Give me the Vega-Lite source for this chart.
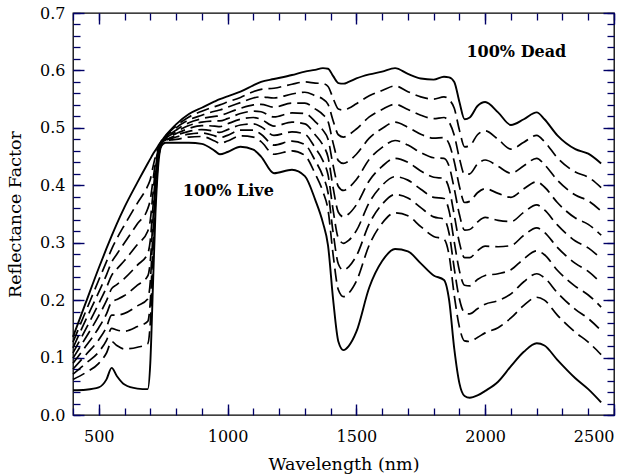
{
  "$schema": "https://vega.github.io/schema/vega-lite/v6.json",
  "width": 541,
  "height": 402,
  "autosize": {"type": "none"},
  "padding": {"left": 73, "top": 13, "right": 22, "bottom": 61},
  "background": "white",
  "config": {
    "view": {"stroke": "black", "strokeWidth": 1.3},
    "axis": {"grid": false, "domain": false, "labelColor": "black", "titleColor": "black", "labelFont": "DejaVu Serif", "titleFont": "DejaVu Serif", "labelFontSize": 16, "titleFontSize": 17.5, "titleFontWeight": "normal"}
  },
  "data": {
    "values": [
      {"w": 400, "L": 0.043, "p20": 0.062, "p30": 0.071, "p40": 0.080, "p50": 0.090, "p60": 0.099, "p70": 0.108, "p80": 0.117, "p90": 0.127, "D": 0.136},
      {"w": 450, "L": 0.044, "p20": 0.074, "p30": 0.090, "p40": 0.105, "p50": 0.120, "p60": 0.135, "p70": 0.150, "p80": 0.166, "p90": 0.181, "D": 0.196},
      {"w": 500, "L": 0.048, "p20": 0.090, "p30": 0.110, "p40": 0.131, "p50": 0.152, "p60": 0.173, "p70": 0.194, "p80": 0.214, "p90": 0.235, "D": 0.256},
      {"w": 530, "L": 0.062, "p20": 0.108, "p30": 0.130, "p40": 0.153, "p50": 0.176, "p60": 0.199, "p70": 0.222, "p80": 0.244, "p90": 0.267, "D": 0.290},
      {"w": 550, "L": 0.082, "p20": 0.128, "p30": 0.151, "p40": 0.174, "p50": 0.197, "p60": 0.220, "p70": 0.243, "p80": 0.266, "p90": 0.289, "D": 0.312},
      {"w": 570, "L": 0.068, "p20": 0.121, "p30": 0.148, "p40": 0.174, "p50": 0.201, "p60": 0.227, "p70": 0.254, "p80": 0.280, "p90": 0.307, "D": 0.333},
      {"w": 600, "L": 0.053, "p20": 0.115, "p30": 0.146, "p40": 0.177, "p50": 0.208, "p60": 0.238, "p70": 0.269, "p80": 0.300, "p90": 0.331, "D": 0.362},
      {"w": 650, "L": 0.046, "p20": 0.118, "p30": 0.154, "p40": 0.190, "p50": 0.226, "p60": 0.261, "p70": 0.297, "p80": 0.333, "p90": 0.369, "D": 0.405},
      {"w": 690, "L": 0.045, "p20": 0.124, "p30": 0.163, "p40": 0.202, "p50": 0.242, "p60": 0.281, "p70": 0.320, "p80": 0.359, "p90": 0.399, "D": 0.438},
      {"w": 700, "L": 0.090, "p20": 0.161, "p30": 0.197, "p40": 0.232, "p50": 0.268, "p60": 0.304, "p70": 0.339, "p80": 0.375, "p90": 0.410, "D": 0.446},
      {"w": 710, "L": 0.220, "p20": 0.267, "p30": 0.290, "p40": 0.314, "p50": 0.337, "p60": 0.360, "p70": 0.384, "p80": 0.407, "p90": 0.431, "D": 0.454},
      {"w": 720, "L": 0.350, "p20": 0.372, "p30": 0.383, "p40": 0.394, "p50": 0.406, "p60": 0.417, "p70": 0.428, "p80": 0.439, "p90": 0.450, "D": 0.461},
      {"w": 730, "L": 0.430, "p20": 0.438, "p30": 0.441, "p40": 0.445, "p50": 0.449, "p60": 0.453, "p70": 0.457, "p80": 0.460, "p90": 0.464, "D": 0.468},
      {"w": 740, "L": 0.465, "p20": 0.467, "p30": 0.468, "p40": 0.469, "p50": 0.470, "p60": 0.471, "p70": 0.472, "p80": 0.473, "p90": 0.474, "D": 0.475},
      {"w": 750, "L": 0.472, "p20": 0.474, "p30": 0.475, "p40": 0.476, "p50": 0.477, "p60": 0.477, "p70": 0.478, "p80": 0.479, "p90": 0.480, "D": 0.481},
      {"w": 760, "L": 0.474, "p20": 0.477, "p30": 0.478, "p40": 0.479, "p50": 0.481, "p60": 0.482, "p70": 0.483, "p80": 0.484, "p90": 0.486, "D": 0.487},
      {"w": 780, "L": 0.474, "p20": 0.479, "p30": 0.481, "p40": 0.483, "p50": 0.486, "p60": 0.488, "p70": 0.490, "p80": 0.492, "p90": 0.495, "D": 0.497},
      {"w": 800, "L": 0.474, "p20": 0.480, "p30": 0.484, "p40": 0.487, "p50": 0.490, "p60": 0.493, "p70": 0.496, "p80": 0.500, "p90": 0.503, "D": 0.506},
      {"w": 850, "L": 0.474, "p20": 0.484, "p30": 0.489, "p40": 0.494, "p50": 0.499, "p60": 0.504, "p70": 0.509, "p80": 0.514, "p90": 0.519, "D": 0.524},
      {"w": 900, "L": 0.472, "p20": 0.485, "p30": 0.491, "p40": 0.497, "p50": 0.504, "p60": 0.510, "p70": 0.516, "p80": 0.522, "p90": 0.529, "D": 0.535},
      {"w": 950, "L": 0.460, "p20": 0.477, "p30": 0.486, "p40": 0.494, "p50": 0.503, "p60": 0.512, "p70": 0.520, "p80": 0.529, "p90": 0.537, "D": 0.546},
      {"w": 970, "L": 0.454, "p20": 0.473, "p30": 0.483, "p40": 0.492, "p50": 0.502, "p60": 0.512, "p70": 0.521, "p80": 0.531, "p90": 0.540, "D": 0.550},
      {"w": 1000, "L": 0.458, "p20": 0.477, "p30": 0.487, "p40": 0.497, "p50": 0.507, "p60": 0.516, "p70": 0.526, "p80": 0.536, "p90": 0.545, "D": 0.555},
      {"w": 1050, "L": 0.467, "p20": 0.486, "p30": 0.496, "p40": 0.505, "p50": 0.515, "p60": 0.525, "p70": 0.534, "p80": 0.544, "p90": 0.553, "D": 0.563},
      {"w": 1100, "L": 0.462, "p20": 0.484, "p30": 0.496, "p40": 0.507, "p50": 0.518, "p60": 0.529, "p70": 0.540, "p80": 0.552, "p90": 0.563, "D": 0.574},
      {"w": 1130, "L": 0.450, "p20": 0.476, "p30": 0.489, "p40": 0.502, "p50": 0.515, "p60": 0.528, "p70": 0.541, "p80": 0.554, "p90": 0.567, "D": 0.580},
      {"w": 1180, "L": 0.421, "p20": 0.454, "p30": 0.470, "p40": 0.487, "p50": 0.503, "p60": 0.519, "p70": 0.536, "p80": 0.552, "p90": 0.569, "D": 0.585},
      {"w": 1250, "L": 0.427, "p20": 0.460, "p30": 0.477, "p40": 0.493, "p50": 0.510, "p60": 0.526, "p70": 0.543, "p80": 0.559, "p90": 0.576, "D": 0.592},
      {"w": 1300, "L": 0.416, "p20": 0.452, "p30": 0.471, "p40": 0.489, "p50": 0.507, "p60": 0.525, "p70": 0.543, "p80": 0.562, "p90": 0.580, "D": 0.598},
      {"w": 1340, "L": 0.375, "p20": 0.420, "p30": 0.443, "p40": 0.465, "p50": 0.488, "p60": 0.511, "p70": 0.533, "p80": 0.556, "p90": 0.578, "D": 0.601},
      {"w": 1370, "L": 0.335, "p20": 0.389, "p30": 0.416, "p40": 0.443, "p50": 0.470, "p60": 0.496, "p70": 0.523, "p80": 0.550, "p90": 0.577, "D": 0.604},
      {"w": 1390, "L": 0.295, "p20": 0.357, "p30": 0.387, "p40": 0.418, "p50": 0.449, "p60": 0.480, "p70": 0.511, "p80": 0.541, "p90": 0.572, "D": 0.603},
      {"w": 1410, "L": 0.200, "p20": 0.278, "p30": 0.317, "p40": 0.356, "p50": 0.395, "p60": 0.434, "p70": 0.473, "p80": 0.512, "p90": 0.551, "D": 0.590},
      {"w": 1430, "L": 0.128, "p20": 0.218, "p30": 0.263, "p40": 0.308, "p50": 0.353, "p60": 0.398, "p70": 0.443, "p80": 0.488, "p90": 0.533, "D": 0.578},
      {"w": 1450, "L": 0.113, "p20": 0.206, "p30": 0.252, "p40": 0.299, "p50": 0.345, "p60": 0.391, "p70": 0.438, "p80": 0.484, "p90": 0.531, "D": 0.577},
      {"w": 1470, "L": 0.120, "p20": 0.212, "p30": 0.258, "p40": 0.304, "p50": 0.350, "p60": 0.396, "p70": 0.442, "p80": 0.488, "p90": 0.534, "D": 0.580},
      {"w": 1500, "L": 0.145, "p20": 0.233, "p30": 0.277, "p40": 0.321, "p50": 0.366, "p60": 0.410, "p70": 0.454, "p80": 0.498, "p90": 0.542, "D": 0.586},
      {"w": 1550, "L": 0.222, "p20": 0.296, "p30": 0.333, "p40": 0.370, "p50": 0.408, "p60": 0.445, "p70": 0.482, "p80": 0.519, "p90": 0.556, "D": 0.593},
      {"w": 1600, "L": 0.268, "p20": 0.334, "p30": 0.367, "p40": 0.400, "p50": 0.433, "p60": 0.466, "p70": 0.499, "p80": 0.532, "p90": 0.565, "D": 0.598},
      {"w": 1650, "L": 0.289, "p20": 0.352, "p30": 0.384, "p40": 0.415, "p50": 0.447, "p60": 0.478, "p70": 0.510, "p80": 0.541, "p90": 0.573, "D": 0.604},
      {"w": 1700, "L": 0.285, "p20": 0.347, "p30": 0.378, "p40": 0.409, "p50": 0.440, "p60": 0.470, "p70": 0.501, "p80": 0.532, "p90": 0.563, "D": 0.594},
      {"w": 1750, "L": 0.264, "p20": 0.328, "p30": 0.361, "p40": 0.393, "p50": 0.425, "p60": 0.457, "p70": 0.489, "p80": 0.522, "p90": 0.554, "D": 0.586},
      {"w": 1800, "L": 0.243, "p20": 0.311, "p30": 0.345, "p40": 0.379, "p50": 0.414, "p60": 0.448, "p70": 0.482, "p80": 0.516, "p90": 0.550, "D": 0.584},
      {"w": 1840, "L": 0.235, "p20": 0.306, "p30": 0.341, "p40": 0.377, "p50": 0.412, "p60": 0.447, "p70": 0.483, "p80": 0.518, "p90": 0.554, "D": 0.589},
      {"w": 1860, "L": 0.200, "p20": 0.278, "p30": 0.316, "p40": 0.355, "p50": 0.394, "p60": 0.433, "p70": 0.472, "p80": 0.510, "p90": 0.549, "D": 0.588},
      {"w": 1880, "L": 0.115, "p20": 0.208, "p30": 0.255, "p40": 0.301, "p50": 0.348, "p60": 0.394, "p70": 0.441, "p80": 0.487, "p90": 0.534, "D": 0.580},
      {"w": 1900, "L": 0.055, "p20": 0.153, "p30": 0.202, "p40": 0.251, "p50": 0.300, "p60": 0.349, "p70": 0.398, "p80": 0.447, "p90": 0.496, "D": 0.545},
      {"w": 1920, "L": 0.033, "p20": 0.129, "p30": 0.178, "p40": 0.226, "p50": 0.274, "p60": 0.322, "p70": 0.370, "p80": 0.419, "p90": 0.467, "D": 0.515},
      {"w": 1940, "L": 0.030, "p20": 0.128, "p30": 0.176, "p40": 0.225, "p50": 0.274, "p60": 0.323, "p70": 0.372, "p80": 0.420, "p90": 0.469, "D": 0.518},
      {"w": 1970, "L": 0.034, "p20": 0.135, "p30": 0.185, "p40": 0.236, "p50": 0.286, "p60": 0.336, "p70": 0.387, "p80": 0.437, "p90": 0.488, "D": 0.538},
      {"w": 2000, "L": 0.042, "p20": 0.143, "p30": 0.193, "p40": 0.243, "p50": 0.294, "p60": 0.344, "p70": 0.394, "p80": 0.444, "p90": 0.495, "D": 0.545},
      {"w": 2050, "L": 0.058, "p20": 0.152, "p30": 0.199, "p40": 0.246, "p50": 0.293, "p60": 0.339, "p70": 0.386, "p80": 0.433, "p90": 0.480, "D": 0.527},
      {"w": 2100, "L": 0.085, "p20": 0.169, "p30": 0.211, "p40": 0.253, "p50": 0.295, "p60": 0.337, "p70": 0.379, "p80": 0.421, "p90": 0.463, "D": 0.505},
      {"w": 2150, "L": 0.110, "p20": 0.191, "p30": 0.232, "p40": 0.272, "p50": 0.313, "p60": 0.353, "p70": 0.394, "p80": 0.434, "p90": 0.475, "D": 0.515},
      {"w": 2200, "L": 0.125, "p20": 0.205, "p30": 0.246, "p40": 0.286, "p50": 0.326, "p60": 0.366, "p70": 0.406, "p80": 0.447, "p90": 0.487, "D": 0.527},
      {"w": 2230, "L": 0.121, "p20": 0.200, "p30": 0.239, "p40": 0.279, "p50": 0.318, "p60": 0.357, "p70": 0.397, "p80": 0.436, "p90": 0.476, "D": 0.515},
      {"w": 2280, "L": 0.096, "p20": 0.174, "p30": 0.213, "p40": 0.252, "p50": 0.292, "p60": 0.331, "p70": 0.370, "p80": 0.409, "p90": 0.448, "D": 0.487},
      {"w": 2350, "L": 0.064, "p20": 0.144, "p30": 0.184, "p40": 0.224, "p50": 0.264, "p60": 0.303, "p70": 0.343, "p80": 0.383, "p90": 0.423, "D": 0.463},
      {"w": 2400, "L": 0.045, "p20": 0.127, "p30": 0.168, "p40": 0.209, "p50": 0.250, "p60": 0.291, "p70": 0.332, "p80": 0.373, "p90": 0.414, "D": 0.455},
      {"w": 2450, "L": 0.022, "p20": 0.105, "p30": 0.147, "p40": 0.188, "p50": 0.230, "p60": 0.272, "p70": 0.313, "p80": 0.355, "p90": 0.396, "D": 0.438}
    ]
  },
  "resolve": {"axis": {"x": "independent", "y": "independent"}},
  "layer": [
    {
      "transform": [
        {"fold": ["L", "p20", "p30", "p40", "p50", "p60", "p70", "p80", "p90", "D"], "as": ["curve", "r"]},
        {"filter": {"field": "curve", "equal": "L"}}
      ],
      "mark": {"type": "line", "interpolate": "monotone", "color": "black", "strokeWidth": 1.9},
      "encoding": {
        "x": {"field": "w", "type": "quantitative", "scale": {"domain": [400, 2500], "nice": false, "zero": false},
          "axis": {"orient": "bottom", "values": [500, 1000, 1500, 2000, 2500], "format": "d", "tickSize": -11, "tickColor": "#000066", "tickWidth": 1.4, "labelPadding": 24, "title": "Wavelength (nm)", "titlePadding": 11}},
        "y": {"field": "r", "type": "quantitative", "scale": {"domain": [0, 0.7], "nice": false, "zero": false},
          "axis": {"orient": "left", "values": [0, 0.1, 0.2, 0.3, 0.4, 0.5, 0.6, 0.7], "format": ".1f", "tickSize": -11, "tickColor": "#000066", "tickWidth": 1.4, "labelPadding": 19, "title": "Reflectance Factor", "titlePadding": 15}}
      }
    },
    {
      "transform": [
        {"fold": ["L", "p20", "p30", "p40", "p50", "p60", "p70", "p80", "p90", "D"], "as": ["curve", "r"]},
        {"filter": {"field": "curve", "equal": "D"}}
      ],
      "mark": {"type": "line", "interpolate": "monotone", "color": "black", "strokeWidth": 1.9},
      "encoding": {
        "x": {"field": "w", "type": "quantitative", "scale": {"domain": [400, 2500], "nice": false, "zero": false},
          "axis": {"orient": "top", "values": [500, 1000, 1500, 2000, 2500], "tickSize": -11, "tickColor": "#000066", "tickWidth": 1.4, "labels": false, "title": null}},
        "y": {"field": "r", "type": "quantitative", "scale": {"domain": [0, 0.7], "nice": false, "zero": false},
          "axis": {"orient": "right", "values": [0, 0.1, 0.2, 0.3, 0.4, 0.5, 0.6, 0.7], "tickSize": -11, "tickColor": "#000066", "tickWidth": 1.4, "labels": false, "title": null}}
      }
    },
    {
      "transform": [
        {"fold": ["L", "p20", "p30", "p40", "p50", "p60", "p70", "p80", "p90", "D"], "as": ["curve", "r"]},
        {"filter": {"field": "curve", "oneOf": ["p20", "p30", "p40", "p50"]}}
      ],
      "mark": {"type": "line", "interpolate": "monotone", "color": "black", "strokeWidth": 1.7, "strokeDash": [13, 6]},
      "encoding": {
        "detail": {"field": "curve", "type": "nominal"},
        "x": {"field": "w", "type": "quantitative", "scale": {"domain": [400, 2500], "nice": false, "zero": false},
          "axis": {"orient": "bottom", "values": [400, 500, 600, 700, 800, 900, 1000, 1100, 1200, 1300, 1400, 1500, 1600, 1700, 1800, 1900, 2000, 2100, 2200, 2300, 2400, 2500], "tickSize": -7, "tickColor": "#000066", "tickWidth": 1.3, "labels": false, "title": null}},
        "y": {"field": "r", "type": "quantitative", "scale": {"domain": [0, 0.7], "nice": false, "zero": false},
          "axis": {"orient": "left", "values": [0, 0.02, 0.04, 0.06, 0.08, 0.1, 0.12, 0.14, 0.16, 0.18, 0.2, 0.22, 0.24, 0.26, 0.28, 0.3, 0.32, 0.34, 0.36, 0.38, 0.4, 0.42, 0.44, 0.46, 0.48, 0.5, 0.52, 0.54, 0.56, 0.58, 0.6, 0.62, 0.64, 0.66, 0.68, 0.7], "tickSize": -7, "tickColor": "#000066", "tickWidth": 1.3, "labels": false, "title": null}}
      }
    },
    {
      "transform": [
        {"fold": ["L", "p20", "p30", "p40", "p50", "p60", "p70", "p80", "p90", "D"], "as": ["curve", "r"]},
        {"filter": {"field": "curve", "oneOf": ["p60", "p70", "p80", "p90"]}}
      ],
      "mark": {"type": "line", "interpolate": "monotone", "color": "black", "strokeWidth": 1.7, "strokeDash": [13, 6]},
      "encoding": {
        "detail": {"field": "curve", "type": "nominal"},
        "x": {"field": "w", "type": "quantitative", "scale": {"domain": [400, 2500], "nice": false, "zero": false},
          "axis": {"orient": "top", "values": [400, 500, 600, 700, 800, 900, 1000, 1100, 1200, 1300, 1400, 1500, 1600, 1700, 1800, 1900, 2000, 2100, 2200, 2300, 2400, 2500], "tickSize": -7, "tickColor": "#000066", "tickWidth": 1.3, "labels": false, "title": null}},
        "y": {"field": "r", "type": "quantitative", "scale": {"domain": [0, 0.7], "nice": false, "zero": false},
          "axis": {"orient": "right", "values": [0, 0.02, 0.04, 0.06, 0.08, 0.1, 0.12, 0.14, 0.16, 0.18, 0.2, 0.22, 0.24, 0.26, 0.28, 0.3, 0.32, 0.34, 0.36, 0.38, 0.4, 0.42, 0.44, 0.46, 0.48, 0.5, 0.52, 0.54, 0.56, 0.58, 0.6, 0.62, 0.64, 0.66, 0.68, 0.7], "tickSize": -7, "tickColor": "#000066", "tickWidth": 1.3, "labels": false, "title": null}}
      }
    },
    {
      "data": {"values": [{"label": "100% Live"}]},
      "mark": {"type": "text", "font": "DejaVu Serif", "fontSize": 16, "fontWeight": "bold", "color": "black", "align": "center", "baseline": "middle"},
      "encoding": {
        "text": {"field": "label"},
        "x": {"datum": 1003, "type": "quantitative", "axis": null},
        "y": {"datum": 0.39, "type": "quantitative", "axis": null}
      }
    },
    {
      "data": {"values": [{"label": "100% Dead"}]},
      "mark": {"type": "text", "font": "DejaVu Serif", "fontSize": 16, "fontWeight": "bold", "color": "black", "align": "center", "baseline": "middle"},
      "encoding": {
        "text": {"field": "label"},
        "x": {"datum": 2121, "type": "quantitative", "axis": null},
        "y": {"datum": 0.632, "type": "quantitative", "axis": null}
      }
    }
  ]
}
